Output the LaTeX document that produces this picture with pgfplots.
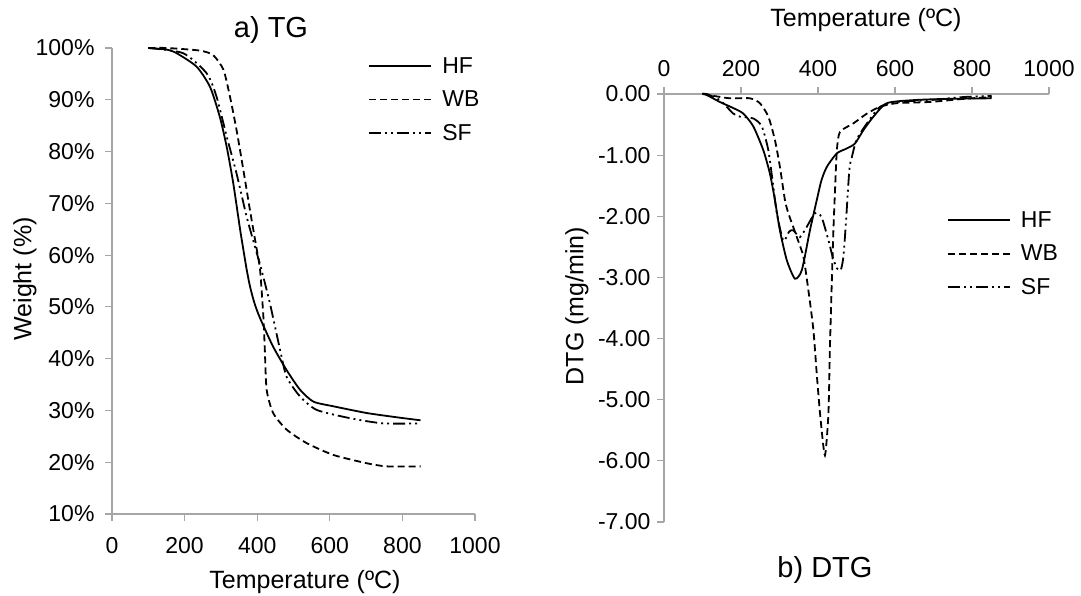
\documentclass[border=0pt]{standalone}
\usepackage{fontspec}
\setmainfont{Liberation Sans}
\usepackage{pgfplots}
\pgfplotsset{compat=1.18}
\definecolor{axgray}{HTML}{A6A6A6}
\newcommand\ff{\fontsize{23}{27}\selectfont}
\newcommand\fl{\fontsize{25}{30}\selectfont}
\newcommand\ft{\fontsize{29}{34}\selectfont}

\pgfplotsset{
  tgbase/.style={
    scale only axis, clip=false,
    xmin=0, xmax=1000,
    tick align=outside, major tick length=7pt,
    axis line style={axgray, line width=1.2pt},
    tick style={axgray, line width=1.2pt},
    tick label style={font=\ff},
    /pgf/number format/assume math mode=true,
    /pgf/number format/1000 sep={},
    legend style={draw=none, fill=none, font=\ff, row sep=12pt},
    legend cell align=left,
    legend image code/.code={\draw[##1] (0pt,0pt) -- (62pt,0pt); \path (70pt,0pt);},
  },
  hf/.style={black, line width=1.8pt, smooth, tension=0.4},
  wb/.style={black, line width=1.8pt, smooth, tension=0.4, dash pattern=on 7pt off 4pt},
  sf/.style={black, line width=1.8pt, smooth, tension=0.4, dash pattern=on 12pt off 4pt on 2pt off 4pt on 2pt off 4pt},
}

\begin{document}
\begin{tikzpicture}
\path[use as bounding box] (0,0) rectangle (1081pt,-596pt);

% a) TG
\begin{axis}[tgbase, at={(112pt,-514pt)}, anchor=south west,
    width=363pt, height=466pt,
    ymin=10, ymax=100,
    axis x line*=bottom, axis y line*=left,
    xtick={0,200,...,1000}, ytick={10,20,...,100},
    yticklabel={\pgfmathprintnumber{\tick}\%\kern7pt},
    xticklabel style={yshift=-13pt},
    legend style={at={(rel axis cs:0.698,0.9885)}, anchor=north west}]
\addplot[hf] coordinates {(100,100)(150,99.7)(178,99.0)(233,96.4)(270,92.5)(297,86.7)(316,80.9)(334,73.9)(353,64.9)(362,61.0)(371,57.2)(380,54.0)(390,51.3)(400,49.2)(413,47.0)(444,42.3)(481,37.8)(518,34.0)(555,31.7)(610,30.8)(702,29.5)(793,28.6)(850,28.1)};
\addlegendentry{HF}
\addplot[wb] coordinates {(100,100)(151,100)(242,99.5)(279,98.6)(307,95.8)(325,90.6)(343,84.2)(362,76.4)(380,68.7)(399,61.0)(408,57.1)(417,48.1)(421,41.7)(426,34.0)(444,29.5)(481,26.3)(536,23.7)(610,21.4)(702,19.8)(757,19.2)(850,19.2)};
\addlegendentry{WB}
\addplot[sf] coordinates {(100,100)(196,99.0)(261,95.1)(288,90.6)(316,82.9)(343,75.8)(371,67.4)(394,61.6)(412,57.1)(435,50.7)(463,41.7)(481,36.5)(518,32.7)(564,30.1)(656,28.5)(747,27.5)(850,27.5)};
\addlegendentry{SF}
\end{axis}
\node[font=\ft] at (271pt,-30pt) {a) TG};
\node[font=\fl] at (305pt,-582pt) {Temperature (ºC)};
\node[font=\fl, rotate=90] at (25pt,-279pt) {Weight (\%)};

% b) DTG
\begin{axis}[tgbase, at={(664pt,-522pt)}, anchor=south west,
    width=385pt, height=428pt,
    ymin=-7, ymax=0,
    axis x line*=top, axis y line*=left,
    xtick={0,200,...,1000}, ytick={-7,-6,...,0},
    yticklabel={\pgfmathprintnumber[fixed,fixed zerofill,precision=2]{\tick}\kern3pt},
    xticklabel style={yshift=7pt},
    legend style={at={(rel axis cs:0.727,0.735)}, anchor=north west}]
\addplot[hf] coordinates {(100,0)(106,0)(145,-0.13)(180,-0.23)(206,-0.32)(232,-0.53)(258,-0.92)(275,-1.30)(288,-1.73)(301,-2.23)(319,-2.72)(340,-3.02)(358,-2.88)(379,-2.23)(397,-1.73)(409,-1.41)(423,-1.19)(449,-0.97)(475,-0.89)(496,-0.81)(518,-0.59)(544,-0.37)(579,-0.15)(648,-0.10)(734,-0.08)(851,-0.07)};
\addlegendentry{HF}
\addplot[wb] coordinates {(100,0)(128,-0.03)(171,-0.07)(223,-0.07)(249,-0.15)(271,-0.37)(288,-0.75)(301,-1.19)(314,-1.73)(323,-1.95)(345,-2.34)(362,-2.66)(375,-3.21)(388,-3.86)(398,-4.68)(407,-5.34)(418,-5.91)(427,-5.23)(431,-4.14)(436,-3.04)(440,-2.23)(444,-1.60)(449,-0.92)(457,-0.62)(492,-0.48)(527,-0.32)(561,-0.21)(604,-0.15)(691,-0.13)(777,-0.08)(851,-0.05)};
\addlegendentry{WB}
\addplot[sf] coordinates {(100,0)(111,0)(145,-0.10)(180,-0.32)(197,-0.37)(232,-0.40)(254,-0.53)(271,-0.92)(284,-1.52)(293,-1.95)(310,-2.40)(325,-2.25)(336,-2.23)(353,-2.34)(371,-2.17)(392,-1.95)(409,-2.01)(427,-2.39)(438,-2.66)(449,-2.85)(459,-2.88)(466,-2.66)(473,-2.06)(477,-1.65)(482,-1.20)(488,-1.03)(500,-0.75)(527,-0.48)(561,-0.21)(604,-0.13)(691,-0.10)(777,-0.05)(851,-0.03)};
\addlegendentry{SF}
\end{axis}
\node[font=\fl] at (866pt,-20pt) {Temperature (ºC)};
\node[font=\ft] at (825pt,-570pt) {b) DTG};
\node[font=\fl, rotate=90] at (577pt,-306pt) {DTG (mg/min)};
\end{tikzpicture}
\end{document}
